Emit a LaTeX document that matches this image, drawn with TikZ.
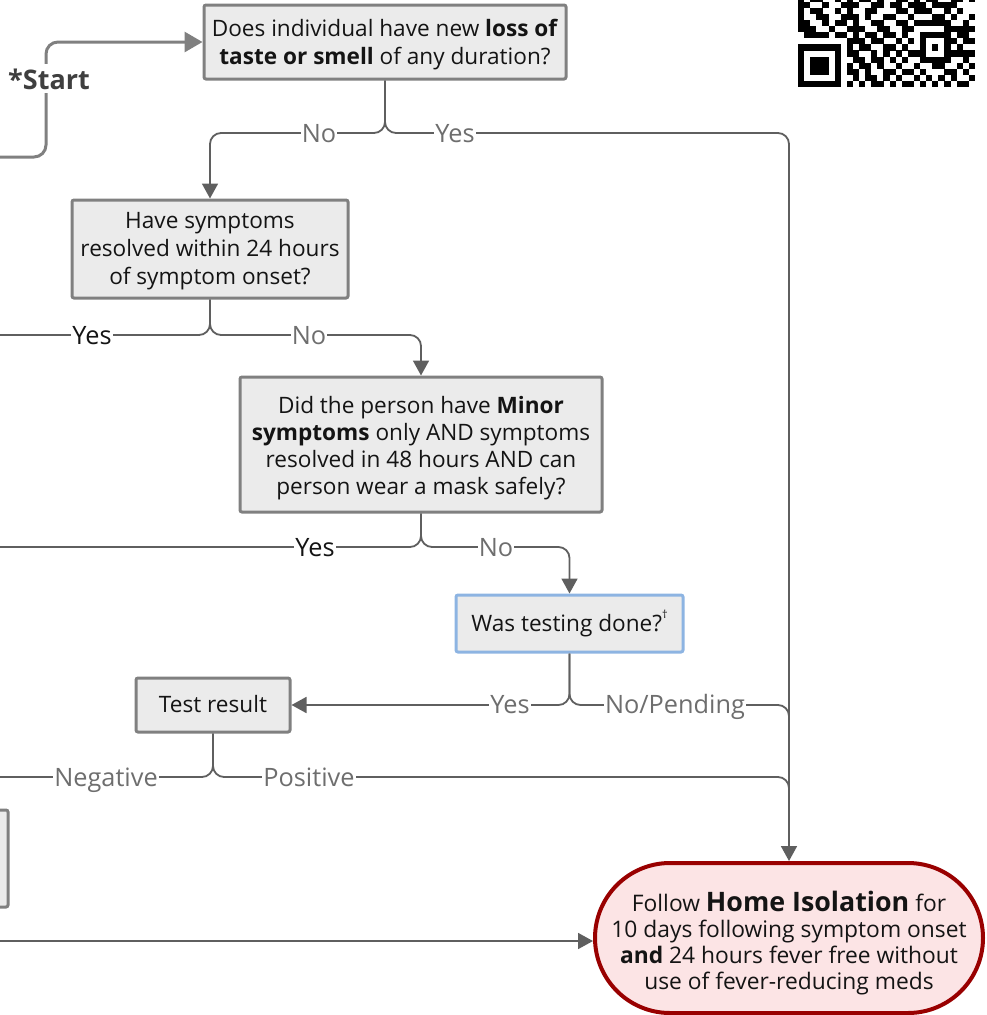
\documentclass[tikz,border=0pt]{standalone}
\usepackage{fontspec}
\setmainfont{Open Sans}
\usetikzlibrary{arrows.meta}
\definecolor{boxfill}{HTML}{EBEBEB}
\definecolor{boxdraw}{HTML}{808080}
\definecolor{connc}{HTML}{5F5F5F}
\definecolor{lblgray}{HTML}{6E6E6E}
\definecolor{txtc}{HTML}{141414}
\definecolor{blueb}{HTML}{8DB4E2}
\definecolor{redb}{HTML}{990000}
\definecolor{pinkf}{HTML}{FCE4E5}
\definecolor{startc}{HTML}{3F3F3F}
\newcommand{\boxfont}{\fontsize{22.6}{28}\selectfont}
\newcommand{\lblfont}{\fontsize{25.3}{28}\selectfont}
\tikzset{
  qbox/.style={draw=boxdraw, line width=3pt, fill=boxfill, rounded corners=2pt,
    inner sep=0pt},
  qtxt/.style={align=center, inner sep=0pt, font=\boxfont, text=txtc},
  lnk/.style={draw=connc, line width=1.8pt, rounded corners=11pt},
  arr/.style={-{Triangle[length=15pt,width=16pt]}},
  lblg/.style={fill=white, inner xsep=1pt, inner ysep=1pt, font=\lblfont, text=lblgray, anchor=base},
  lblk/.style={lblg, text=txtc},
}
\begin{document}
\begin{tikzpicture}[x=1pt,y=-1pt]
\useasboundingbox (0,0) rectangle (987,1015);

% QR code (cropped)
\begin{scope}
\clip (780,0) rectangle (987,100);
\foreach \r/\cs in {
14/{0,2,3,6,8,10,11,13,16,17,19,21,22,25,26,28},
15/{0,1,4,7,8,9,12,13,15,16,18,19,20,22,23,24,25},
16/{0,2,3,6,8,11,12,16,17,19,20,21,24,26},
17/{0,3,4,7,8,9,11,14,15,18,22,23,25,28},
18/{0,1,4,6,7,9,12,13,16,17,19,20,21,22,23,24,27},
19/{0,1,2,5,8,9,10,13,14,17,18,24,25,26,27,28},
20/{1,2,3,4,6,7,9,11,12,14,15,17,20,21,22,23,24,26,27},
21/{8,9,10,12,13,16,18,20,24,25,27,28},
22/{0,1,2,3,4,5,6,8,10,11,14,15,17,20,22,24,26},
23/{0,6,8,9,12,14,16,18,19,20,24,25,26,27,28},
24/{0,2,3,4,6,9,10,12,13,15,17,20,21,22,23,24,27},
25/{0,2,3,4,6,8,10,11,13,16,19,22,23,26,28},
26/{0,2,3,4,6,8,9,11,14,15,17,18,20,24,25,27},
27/{0,6,9,11,12,14,16,19,21,23,25,28},
28/{0,1,2,3,4,5,6,8,10,12,13,15,17,18,20,22,24,26,27}}{
  \foreach \c in \cs {
    \fill[black] (798+6.1*\c, -89.9+6.1*\r) rectangle ++(6.2,6.2);
  }
}
\end{scope}

% boxes
\node[qbox, minimum width=362pt, minimum height=74pt] (A) at (385,42) {};
\node[qtxt] (At) at ([yshift=-2.5pt]A.center)
  {Does individual have new \textbf{loss of}\\\textbf{taste or smell} of any duration?};
\node[qbox, minimum width=276pt, minimum height=98pt] (B) at (210,249) {};
\node[qtxt] (Bt) at ([yshift=-2.5pt]B.center)
  {Have symptoms\\resolved within 24 hours\\of symptom onset?};
\node[qbox, minimum width=362pt, minimum height=135pt] (C) at (421,444.5) {};
\node[qtxt, font=\fontsize{22.6}{27.2}\selectfont] (Ct) at ([yshift=-3.5pt]C.center)
  {Did the person have \textbf{Minor}\\\textbf{symptoms} only AND symptoms\\resolved in 48 hours AND can\\person wear a mask safely?};
\node[qbox, draw=blueb, minimum width=227pt, minimum height=57pt] (D) at (569.5,623.5) {};
\node[qtxt] (Dt) at (D.center)
  {Was testing done?\raisebox{1.1ex}{\fontsize{11}{12}\selectfont †}};
\node[qbox, minimum width=154pt, minimum height=54pt] (T) at (213,705) {};
\node[qtxt] (Tt) at ([yshift=1pt]T.center) {Test result};
\node[qbox, fill=boxfill, minimum width=60pt, minimum height=97pt] (P) at (-22,858.5) {};
\node[draw=redb, line width=4pt, fill=pinkf, rounded corners=75pt,
  inner sep=0pt, minimum width=388pt, minimum height=150pt] (H) at (789,938) {};
\node[qtxt, font=\fontsize{22.8}{26}\selectfont] (Ht) at ([yshift=-5pt]H.center)
  {Follow {\fontsize{26.8}{26}\selectfont\textbf{Home Isolation}} for\\10 days following symptom onset\\\textbf{and} 24 hours fever free without\\use of fever-reducing meds};

% coordinates
\coordinate (s0) at (0,157);
\coordinate (s1) at (46,157);
\coordinate (f1) at (385,133);
\coordinate (f2) at (210,335);
\coordinate (e2) at (0,335);
\coordinate (f3) at (421,547);
\coordinate (e3) at (0,547);
\coordinate (f4) at (569.5,705);
\coordinate (m4) at (789,745);
\coordinate (f5) at (213,777);
\coordinate (e5) at (0,777);
\coordinate (m5) at (789,815);
\coordinate (e6) at (0,941);

% start connector
\draw[draw=boxdraw, line width=3pt, rounded corners=12pt, -{Triangle[length=18pt,width=20pt]}]
  (s0) -- (s1) |- (A.west);
\node[fill=white, inner xsep=2pt, inner ysep=4pt, font=\fontsize{27}{30}\selectfont\bfseries,
  text=startc, anchor=base] (start) at (49,89) {*Start};

% connectors
\draw[lnk,arr] (A.south) -- (f1) -| (B.north);
\draw[lnk,arr] (A.south) -- (f1) -| (H.north);
\draw[lnk] (B.south) -- (f2) -- (e2);
\draw[lnk,arr] (B.south) -- (f2) -| (C.north);
\draw[lnk] (C.south) -- (f3) -- (e3);
\draw[lnk,arr] (C.south) -- (f3) -| (D.north);
\draw[lnk,arr] (D.south) -- (f4) -- (T.east);
\draw[lnk] (D.south) -- (f4) -| (m4);
\draw[lnk] (T.south) -- (f5) -- (e5);
\draw[lnk] (T.south) -- (f5) -| (m5);
\draw[lnk,arr] (e6) -- (e6 -| H.west);

% labels
\node[lblg] (l1) at (319,142) {No};
\node[lblg] (l2) at (455,142) {Yes};
\node[lblk] (l3) at (92,344) {Yes};
\node[lblg] (l4) at (309,344) {No};
\node[lblk] (l5) at (315,556) {Yes};
\node[lblg] (l6) at (496,556) {No};
\node[lblg] (l7) at (510,713) {Yes};
\node[lblg] (l8) at (675,713) {No/Pending};
\node[lblg] (l9) at (106,786) {Negative};
\node[lblg] (l10) at (309,786) {Positive};
\end{tikzpicture}
\end{document}
